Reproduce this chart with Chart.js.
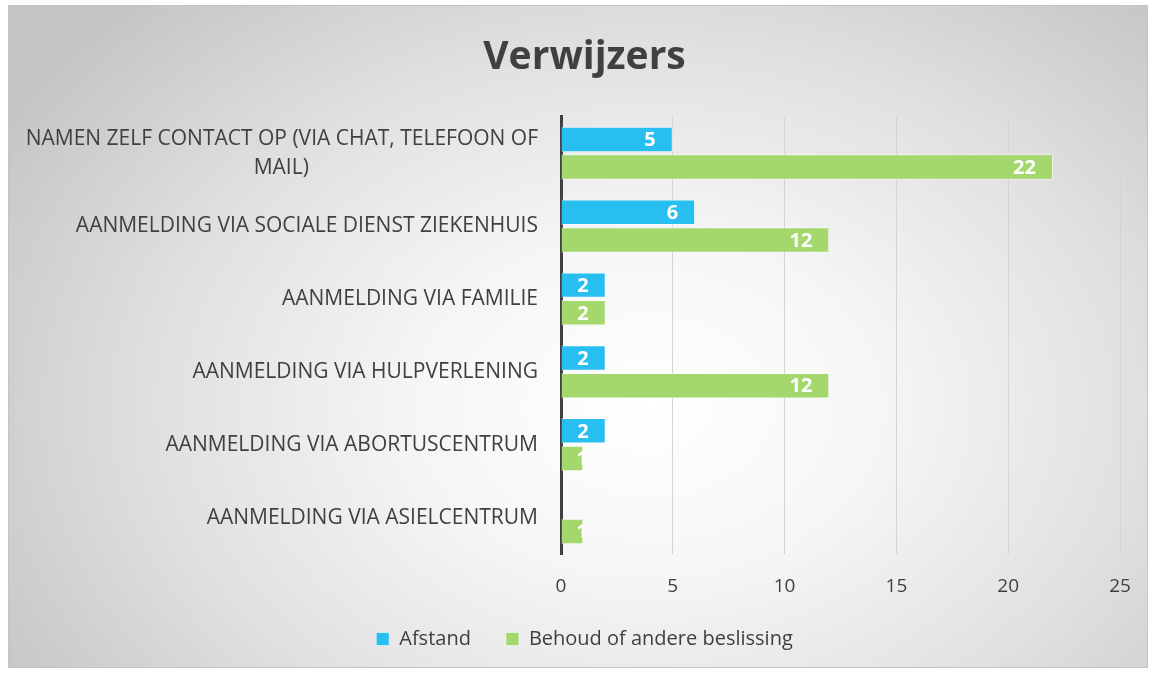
<!DOCTYPE html>
<html>
<head>
<meta charset="utf-8">
<script src="https://cdn.jsdelivr.net/npm/chart.js@4.4.1/dist/chart.umd.min.js"></script>
<style>
  html, body { margin: 0; padding: 0; background: #ffffff; }
  #wrap {
    position: absolute; left: 8px; top: 5px; width: 1140px; height: 663px;
    box-sizing: border-box; border: 1px solid #c4c4c4;
    background: radial-gradient(ellipse 760px 560px at 640px 400px, #ffffff 0%, #f6f6f6 30%, #e0e0e0 65%, #c4c4c4 100%);
  }
  canvas { display: block; }
</style>
</head>
<body>
<div id="wrap"><canvas id="c" width="1138" height="661"></canvas></div>
<script>
const title = 'Verwijzers';
const categories = [
  ['NAMEN ZELF CONTACT OP (VIA CHAT, TELEFOON OF', 'MAIL)' + '\u00a0'.repeat(42)],
  'AANMELDING VIA SOCIALE DIENST ZIEKENHUIS',
  'AANMELDING VIA FAMILIE',
  'AANMELDING VIA HULPVERLENING',
  'AANMELDING VIA ABORTUSCENTRUM',
  'AANMELDING VIA ASIELCENTRUM'
];
const seriesNames = ['Afstand', 'Behoud of andere beslissing'];
const afstand = [5, 6, 2, 2, 2, null];
const behoud = [22, 12, 2, 12, 1, 1];
const xTicks = [0, 5, 10, 15, 20, 25];

const FONT = '"Open Sans", sans-serif';
const TEXT = '#404040';

const valueLabels = {
  id: 'valueLabels',
  afterDatasetsDraw(chart) {
    const ctx = chart.ctx;
    chart.data.datasets.forEach((ds, di) => {
      const meta = chart.getDatasetMeta(di);
      meta.data.forEach((el, i) => {
        const v = ds.data[i];
        if (v === null || v === undefined) return;
        const p = el.getProps(['x', 'y', 'base', 'height'], true);
        const txt = String(v);
        ctx.save();
        ctx.font = 'bold 20px ' + FONT;
        const w = ctx.measureText(txt).width;
        ctx.beginPath();
        ctx.rect(p.base, p.y - p.height / 2, p.x - p.base, p.height);
        ctx.clip();
        const right = Math.max(p.x - 17, p.base + 15 + w);
        ctx.fillStyle = '#ffffff';
        ctx.textAlign = 'right';
        ctx.textBaseline = 'middle';
        ctx.fillText(txt, right, p.y + 1);
        ctx.restore();
      });
    });
  }
};

const boxTweaks = {
  id: 'boxTweaks',
  beforeInit(chart) {
    const lg = chart.legend;
    if (!lg) return;
    const orig = lg.fit;
    lg.fit = function () { orig.call(this); this.height = 65; };
  },
  afterLayout(chart) {
    [chart.titleBlock, chart.legend].forEach(b => {
      if (b) { b.left += 20; b.right += 20; }
    });
  }
};

new Chart(document.getElementById('c'), {
  type: 'bar',
  data: {
    labels: categories,
    datasets: [
      { label: seriesNames[0], data: afstand, backgroundColor: '#29BEF0', borderColor: 'rgba(255,255,255,0.55)', borderWidth: 1, borderSkipped: 'left' },
      { label: seriesNames[1], data: behoud, backgroundColor: '#A4D86C', borderColor: 'rgba(255,255,255,0.55)', borderWidth: 1, borderSkipped: 'left' }
    ]
  },
  options: {
    indexAxis: 'y',
    responsive: false,
    animation: false,
    devicePixelRatio: 1,
    layout: { padding: { left: 0, right: 27, top: 0, bottom: 8 } },
    datasets: { bar: { categoryPercentage: 0.76, barPercentage: 0.92 } },
    plugins: {
      title: {
        display: true, text: title, color: TEXT,
        font: { family: FONT, size: 39, weight: 'bold', lineHeight: 1.2 },
        padding: { top: 28, bottom: 36 }
      },
      legend: {
        position: 'bottom',
        labels: {
          color: TEXT, font: { family: FONT, size: 20 },
          boxWidth: 13, boxHeight: 13, padding: 35
        }
      },
      tooltip: { enabled: false }
    },
    scales: {
      x: {
        min: 0, max: 25,
        afterBuildTicks(scale) { scale.ticks = xTicks.map(v => ({ value: v })); },
        afterFit(scale) { scale.height = 40; scale.paddingRight = 0; scale.paddingLeft = 0; },
        ticks: { color: TEXT, font: { family: FONT, size: 19 }, padding: 21 },
        grid: { color: '#d4d4d4', lineWidth: 1, drawTicks: false },
        border: { display: false }
      },
      y: {
        afterFit(scale) { scale.width = 552; },
        ticks: { color: TEXT, font: { family: FONT, size: 21, lineHeight: 1.38 }, padding: 23 },
        grid: { display: false, drawTicks: false },
        border: { display: true, color: '#404040', width: 3 }
      }
    }
  },
  plugins: [valueLabels, boxTweaks]
});
</script>
</body>
</html>
